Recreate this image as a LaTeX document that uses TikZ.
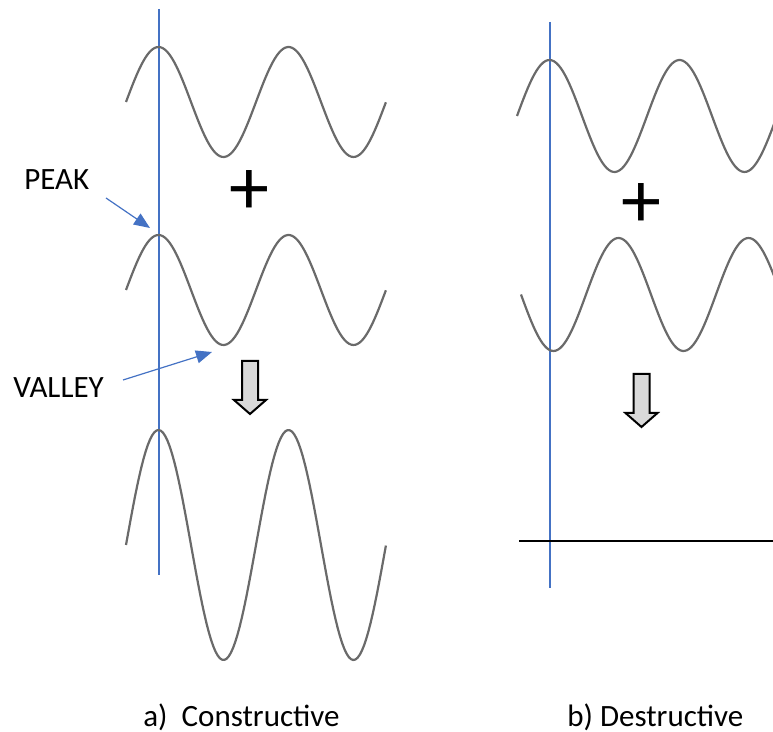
\documentclass[tikz,border=0pt]{standalone}
\usepackage{fontspec}
\setmainfont{Carlito}
\usepackage{xcolor}
\usetikzlibrary{arrows.meta}
\definecolor{guideblue}{HTML}{4472C4}
\definecolor{wavegray}{HTML}{6A6A6A}

\tikzset{
  pics/downarrow/.style={code={
    \draw[hollowarrow] (-8,0) -- (8,0) -- (8,39) -- (16,39) -- (0,53) -- (-16,39) -- (-8,39) -- cycle;
  }}
}

\begin{document}
\begin{tikzpicture}[
  x=0.5pt, y=-0.5pt,
  wave/.style={draw=wavegray, line width=1.1pt, line join=round},
  guide/.style={draw=guideblue, line width=0.6pt},
  pointer/.style={draw=guideblue, line width=0.6pt, -{Triangle[length=8pt,width=6.5pt]}},
  tag/.style={font=\fontsize{15.5}{18}\selectfont, inner sep=0pt},
  plussign/.style={font=\fontsize{40}{40}\selectfont, inner sep=0pt},
  hollowarrow/.style={draw=black, line width=1pt, fill=black!15, line join=miter},
  flatline/.style={draw=black, line width=1pt}
]
\useasboundingbox (0,0) rectangle (773,732);
\clip (0,0) rectangle (773,732);

% reference lines
\draw[guide] (159,9) -- (159,575);
\draw[guide] (550,22) -- (550,588);

% the waves: start x / centre y / amplitude
\foreach \xo/\yc/\amp in {126/102/55, 126/290/55, 126/545/115, 517/116/56, 521/294.5/-56.5}
  \draw[wave] plot[domain=0:2, samples=120] ({\xo+130*\x},{\yc-(\amp)*sin(360*\x)});
\draw[flatline] (519,541) -- (790,541);

\node[plussign] (plusa) at (249,193) {+};
\node[plussign] (plusb) at (641,206) {+};
\pic at (250,361) {downarrow};
\pic at (641.5,374) {downarrow};

\node[tag, anchor=base west] (peak) at (24,190) {PEAK};
\node[tag, anchor=base west] (valley) at (13,398) {VALLEY};
\coordinate (peakfrom) at (106,198);
\coordinate (peaktip) at (150,228);
\coordinate (valleyfrom) at (123,380);
\coordinate (valleytip) at (212,352);
\draw[pointer] (peakfrom) -- (peaktip);
\draw[pointer] (valleyfrom) -- (valleytip);

\node[tag, anchor=base west] (capa) at (143,727) {a)~~Constructive};
\node[tag, anchor=base west] (capb) at (567,727) {b) Destructive};
\end{tikzpicture}
\end{document}
